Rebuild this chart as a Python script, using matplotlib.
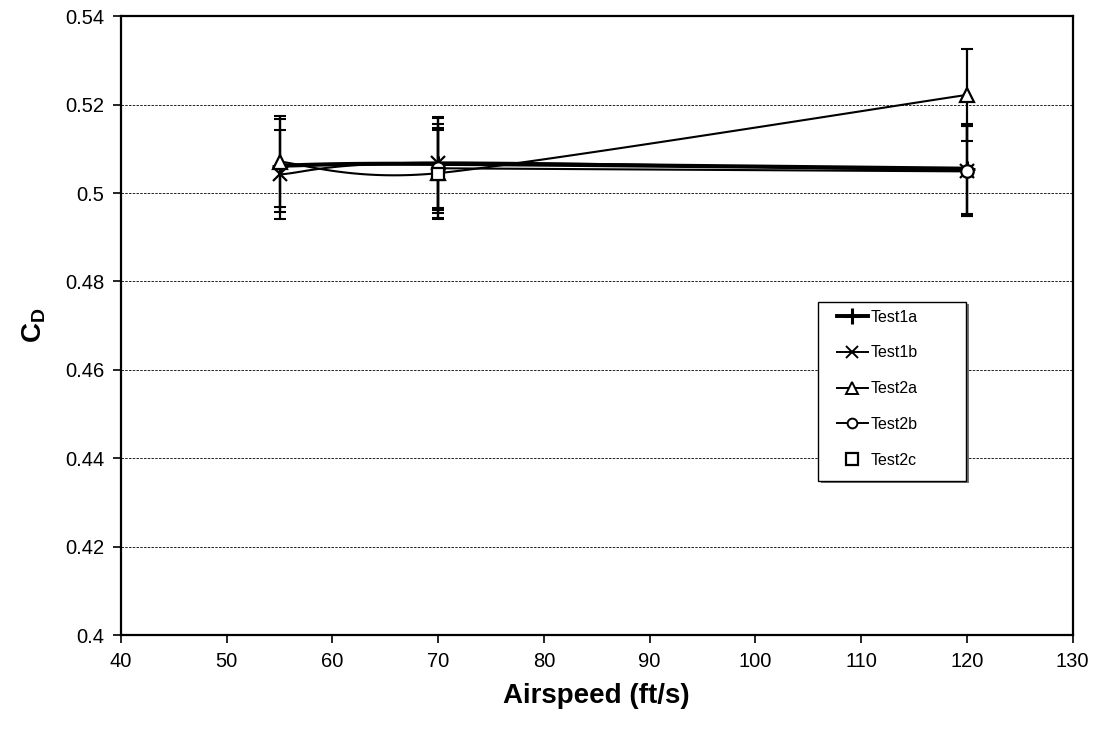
import matplotlib
matplotlib.use("Agg")
import matplotlib.pyplot as plt
from matplotlib.patches import Rectangle
import matplotlib.transforms as mtransforms
import numpy as np

plt.rcParams['font.family'] = ['Liberation Sans', 'DejaVu Sans']
plt.rcParams['mathtext.fontset'] = 'custom'
plt.rcParams['mathtext.rm'] = 'Liberation Sans'
plt.rcParams['mathtext.bf'] = 'Liberation Sans:bold'

airspeed = [55, 70, 120]
test1a = [0.5062, 0.5066, 0.5055]
test1a_err = [0.0105, 0.0104, 0.0102]
test1b = [0.5042, 0.5069, 0.5050]
test1b_err = [0.0101, 0.0102, 0.0101]
test2a = [0.5071, 0.5045, 0.5222]
test2a_err = [0.0103, 0.0101, 0.0104]
test2b_x = [70, 120]
test2b = [0.5056, 0.5049]
test2b_err = [0.0101, 0.0102]
test2c_x = [70]
test2c = [0.5042]
test2c_err = [0.0100]

xticks = [40, 50, 60, 70, 80, 90, 100, 110, 120, 130]
yticks = [0.40, 0.42, 0.44, 0.46, 0.48, 0.50, 0.52, 0.54]
ytick_labels = ['0.4', '0.42', '0.44', '0.46', '0.48', '0.5', '0.52', '0.54']

fig = plt.figure(figsize=(11, 7.36), dpi=100)
ax = fig.add_axes([0.110, 0.137, 0.865, 0.841])
ax.set_xlim(40, 130)
ax.set_ylim(0.40, 0.54)


def smooth(xs, ys, n=60, k=6.0):
    # Excel-style smoothed line (Bezier through points) computed in display space
    pts = ax.transData.transform(np.column_stack([xs, ys]))
    if len(pts) < 3:
        return np.asarray(xs, float), np.asarray(ys, float)
    out = []
    m = len(pts)
    for i in range(m - 1):
        p0 = pts[i - 1] if i > 0 else pts[i]
        p1 = pts[i]
        p2 = pts[i + 1]
        p3 = pts[i + 2] if i + 2 < m else pts[i + 1]
        c1 = p1 + (p2 - p0) / k
        c2 = p2 - (p3 - p1) / k
        t = np.linspace(0, 1, n)[:, None]
        seg = ((1 - t) ** 3) * p1 + 3 * ((1 - t) ** 2) * t * c1 + 3 * (1 - t) * t ** 2 * c2 + t ** 3 * p2
        out.append(seg if i == 0 else seg[1:])
    out = np.vstack(out)
    d = ax.transData.inverted().transform(out)
    return d[:, 0], d[:, 1]


ax.yaxis.grid(True, linestyle=(0, (3, 1.5)), color='black', linewidth=0.6)
ax.set_axisbelow(True)

ekw = dict(fmt='none', ecolor='black', elinewidth=1.6, capsize=4.5, capthick=1.5, zorder=3)
ax.errorbar(airspeed, test1a, yerr=test1a_err, **ekw)
ax.errorbar(airspeed, test1b, yerr=test1b_err, **ekw)
ax.errorbar(airspeed, test2a, yerr=test2a_err, **ekw)
ax.errorbar(test2b_x, test2b, yerr=test2b_err, **ekw)
ax.errorbar(test2c_x, test2c, yerr=test2c_err, **ekw)

sx, sy = smooth(airspeed, test1a)
ax.plot(sx, sy, color='black', lw=3.0, zorder=4)
sx, sy = smooth(airspeed, test1b)
ax.plot(sx, sy, color='black', lw=1.5, zorder=4)
sx, sy = smooth(airspeed, test2a, k=8.0)
ax.plot(sx, sy, color='black', lw=1.5, zorder=4)
ax.plot(test2b_x, test2b, color='black', lw=1.5, zorder=4)

ax.plot(airspeed, test1a, ls='none', marker='+', ms=12, mew=2.2, color='black', zorder=5)
ax.plot(airspeed, test1b, ls='none', marker='x', ms=10, mew=1.6, color='black', zorder=5)
ax.plot(airspeed, test2a, ls='none', marker='^', ms=10, mew=1.6, mfc='white', mec='black', zorder=5)
ax.plot(test2b_x, test2b, ls='none', marker='o', ms=9, mew=1.6, mfc='white', mec='black', zorder=5)
ax.plot(test2c_x, test2c, ls='none', marker='s', ms=9, mew=1.6, mfc='white', mec='black', zorder=5)

# legend frame with a small shadow
shadow_tr = ax.transAxes + mtransforms.ScaledTranslation(1.6 / 72, -1.6 / 72, fig.dpi_scale_trans)
ax.add_patch(Rectangle((0.733, 0.249), 0.1555, 0.289, transform=shadow_tr,
                       facecolor='0.45', edgecolor='none', zorder=5.9))
ax.add_patch(Rectangle((0.733, 0.249), 0.1555, 0.289, transform=ax.transAxes,
                       facecolor='white', edgecolor='black', linewidth=1.0, zorder=6))

h1, = ax.plot([], [], color='black', lw=2.8, marker='+', ms=12, mew=2.2)
h2, = ax.plot([], [], color='black', lw=1.4, marker='x', ms=9, mew=1.4)
h3, = ax.plot([], [], color='black', lw=1.4, marker='^', ms=8, mew=1.4, mfc='white')
h4, = ax.plot([], [], color='black', lw=1.4, marker='o', ms=7, mew=1.4, mfc='white')
h5, = ax.plot([], [], color='none', lw=0, marker='s', ms=8, mew=1.6, mfc='white', mec='black')
leg = ax.legend([h1, h2, h3, h4, h5], ['Test1a', 'Test1b', 'Test2a', 'Test2b', 'Test2c'],
                loc='upper left', bbox_to_anchor=(0.752, 0.526),
                fontsize=11.5, frameon=False,
                handlelength=1.95, handletextpad=0.2, labelspacing=1.3, borderpad=0,
                borderaxespad=0)
leg.set_zorder(7)

ax.set_xticks(xticks)
ax.set_xticklabels([str(v) for v in xticks])
ax.set_yticks(yticks)
ax.set_yticklabels(ytick_labels)
ax.tick_params(axis='both', direction='out', length=6, width=1.2, labelsize=14.5, pad=6, color='black')
for s in ax.spines.values():
    s.set_linewidth(1.6)
    s.set_color('black')

ax.set_xlabel('Airspeed (ft/s)', fontsize=20, fontweight='bold', labelpad=9)
ax.set_ylabel(r'$\mathbf{C_D}$', fontsize=20, labelpad=12)

fig.savefig('out.png', dpi=100)
